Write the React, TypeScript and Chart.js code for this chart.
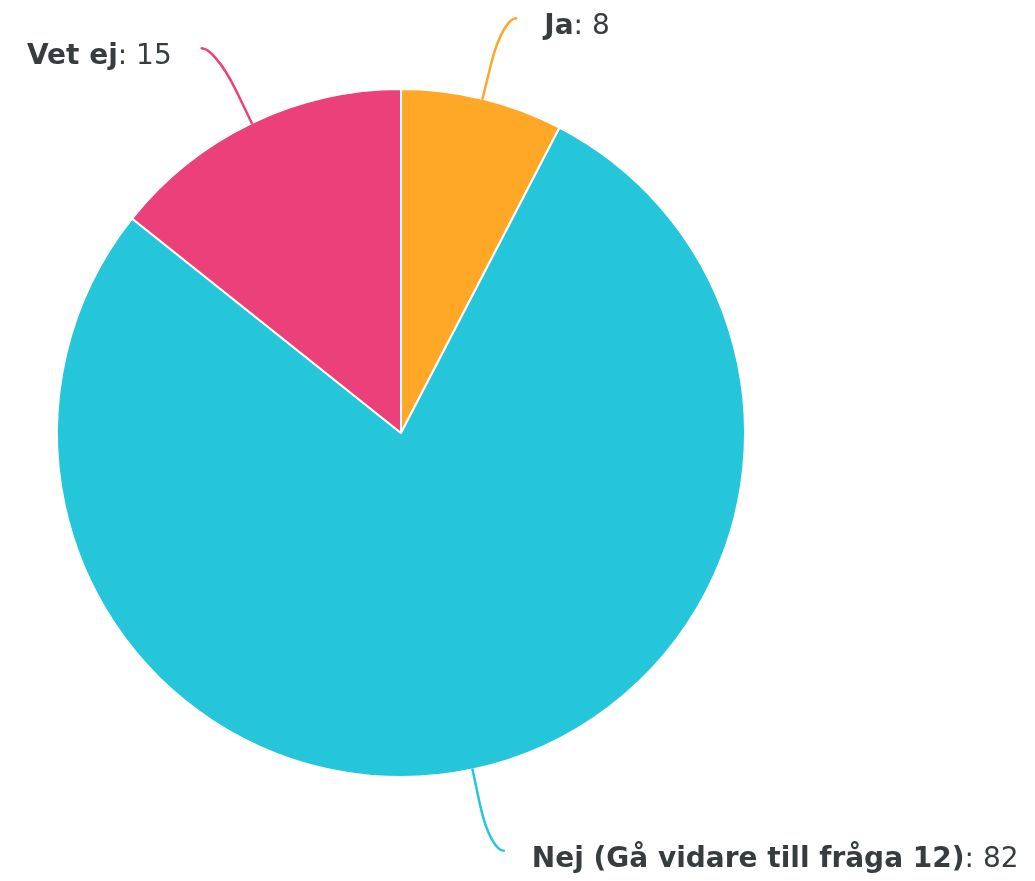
import React, { useEffect, useRef } from "react";
import { Chart, registerables } from "chart.js";

Chart.register(...registerables);

const categories = ["Ja", "Nej (Gå vidare till fråga 12)", "Vet ej"];
const values = [8, 82, 15];
const colors = ["#FFA726", "#26C6DA", "#EC407A"];

const labelPlugin = {
  id: "pieLabels",
  afterDatasetsDraw(chart: any) {
    const ctx = chart.ctx as CanvasRenderingContext2D;
    const meta = chart.getDatasetMeta(0);
    const ds = chart.data.datasets[0];
    meta.data.forEach((arc: any, i: number) => {
      const p = arc.getProps(["x", "y", "startAngle", "endAngle", "outerRadius"], true);
      const mid = (p.startAngle + p.endAngle) / 2;
      const r = p.outerRadius;
      const c = Math.cos(mid);
      const s = Math.sin(mid);
      const sign = c >= 0 ? 1 : -1;
      const touch = { x: p.x + c * r, y: p.y + s * r };
      const brk = { x: p.x + c * (r + 35), y: p.y + s * (r + 35) };
      const anchor = { x: p.x + c * (r + 83) + sign * 14, y: p.y + s * (r + 83) };
      ctx.save();
      ctx.strokeStyle = (ds.backgroundColor as string[])[i];
      ctx.lineWidth = 2.5;
      ctx.lineCap = "round";
      ctx.beginPath();
      ctx.moveTo(anchor.x, anchor.y);
      ctx.bezierCurveTo(
        anchor.x - sign * 6,
        anchor.y,
        2 * brk.x - touch.x,
        2 * brk.y - touch.y,
        brk.x,
        brk.y
      );
      ctx.lineTo(touch.x, touch.y);
      ctx.stroke();

      const name = chart.data.labels[i] as string;
      const valText = ": " + (ds.data[i] as number);
      ctx.fillStyle = "#373d3f";
      ctx.textBaseline = "alphabetic";
      ctx.textAlign = "left";
      const boldFont = "bold 28px 'DejaVu Sans'";
      const normFont = "28px 'DejaVu Sans'";
      ctx.font = boldFont;
      const wName = ctx.measureText(name).width;
      ctx.font = normFont;
      const wVal = ctx.measureText(valText).width;
      const ty = anchor.y + 16;
      const tx = sign > 0 ? anchor.x + 28 : anchor.x - 30 - wName - wVal;
      ctx.font = boldFont;
      ctx.fillText(name, tx, ty);
      ctx.font = normFont;
      ctx.fillText(valText, tx + wName, ty);
      ctx.restore();
    });
  },
};

export default function App() {
  const ref = useRef<HTMLCanvasElement | null>(null);
  useEffect(() => {
    if (!ref.current) return;
    const chart = new Chart(ref.current, {
      type: "pie",
      data: {
        labels: categories,
        datasets: [
          {
            data: values,
            backgroundColor: colors,
            borderColor: "#ffffff",
            borderWidth: 2,
          },
        ],
      },
      options: {
        responsive: false,
        animation: false,
        layout: { padding: { left: 56, right: 289, top: 88, bottom: 103 } },
        plugins: {
          legend: { display: false },
          tooltip: { enabled: false },
        },
      },
      plugins: [labelPlugin],
    });
    return () => chart.destroy();
  }, []);
  return (
    <div style={{ position: "fixed", left: 0, top: 0, width: 1035, height: 881, background: "#ffffff" }}>
      <canvas ref={ref} width={1035} height={881} style={{ display: "block" }} />
    </div>
  );
}
